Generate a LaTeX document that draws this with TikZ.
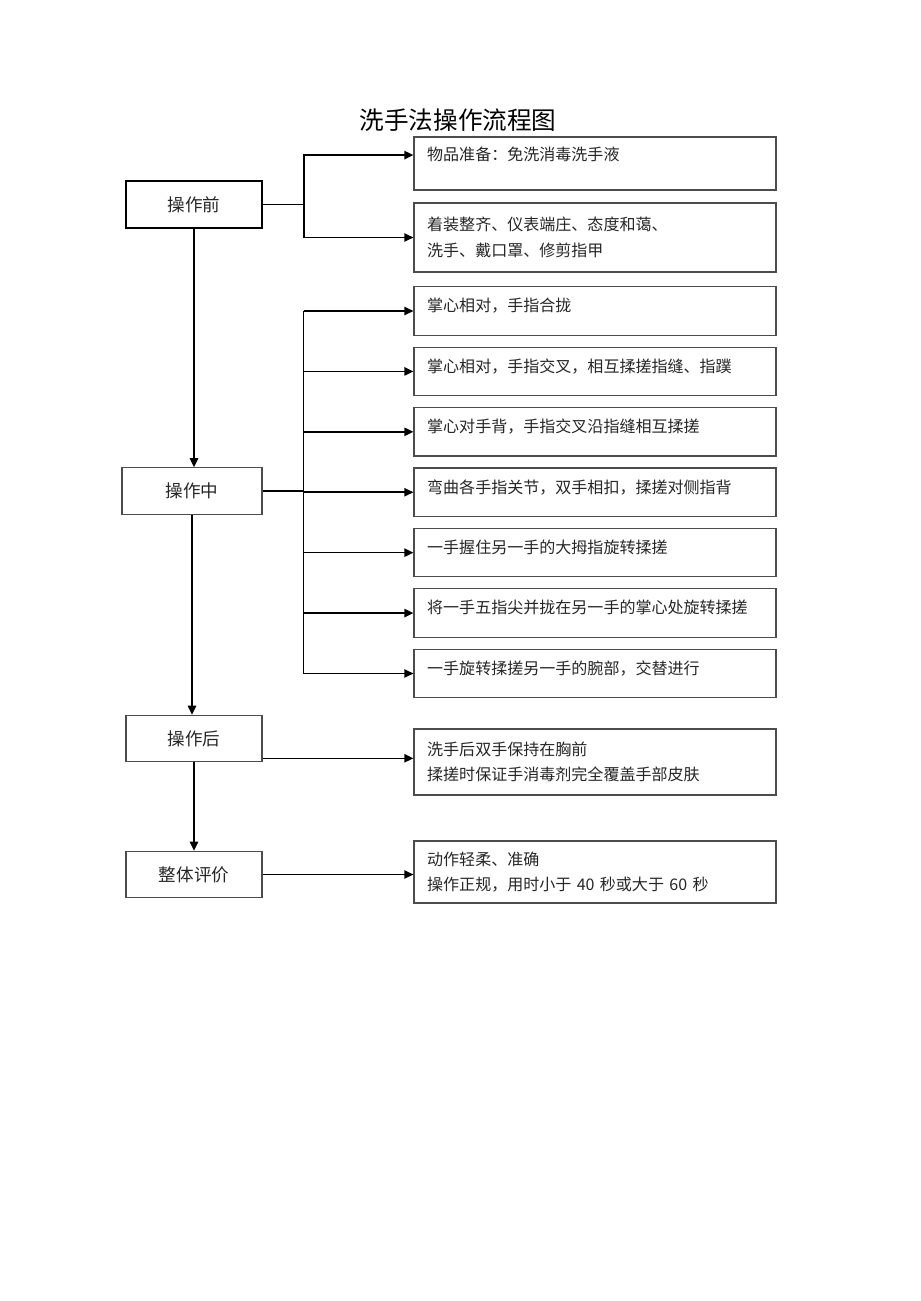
\documentclass[tikz,border=0pt]{standalone}
\usepackage{fontspec}
\newfontfamily\cjk{Noto Sans CJK SC}
\usetikzlibrary{arrows.meta,positioning}

\tikzset{
	stage/.style={draw=black!70, line width=0.8pt, rectangle, minimum width=3.4cm, minimum height=1.16cm, text=black!85, font=\cjk\fontsize{12.5pt}{15pt}\selectfont},
	item/.style={draw=black!70, line width=0.8pt, rectangle, text width=8.39cm, inner xsep=0.33cm, align=left, text=black!85, font=\cjk\fontsize{11.4pt}{18pt}\selectfont},
	oneline/.style={minimum height=1.21cm, text depth=0.3cm},
	link/.style={line width=1.1pt, -{Triangle[length=6.5pt,width=6pt]}}
}

\begin{document}
\begin{tikzpicture}[x=0.025cm, y=-0.025cm]
	\useasboundingbox (0,0) rectangle (920,1301);
	
	\node[font=\cjk\fontsize{17.5pt}{20pt}\selectfont](title) at (458,120){洗手法操作流程图};
	
	\node[stage, draw=black, line width=1.2pt](pre) at (194,204.5){操作前};
	\node[stage, minimum width=3.5cm](mid) at (192,491){操作中};
	\node[stage](post) at (194,738.5){操作后};
	\node[stage](eval) at (194,874.5){整体评价};
	
	\node[item, minimum height=1.325cm, text depth=0.5cm](prep1) at (595,163.5){物品准备：免洗消毒洗手液};
	\node[item, minimum height=1.725cm](prep2) at (595,237.5){着装整齐、仪表端庄、态度和蔼、\\洗手、戴口罩、修剪指甲};
	
	\node[item, oneline](step1) at (595,311){掌心相对，手指合拢};
	\node[item, oneline, below of=step1, node distance=1.51cm](step2){掌心相对，手指交叉，相互揉搓指缝、指蹼};
	\node[item, oneline, below of=step2, node distance=1.51cm](step3){掌心对手背，手指交叉沿指缝相互揉搓};
	\node[item, oneline, below of=step3, node distance=1.51cm](step4){弯曲各手指关节，双手相扣，揉搓对侧指背};
	\node[item, oneline, below of=step4, node distance=1.51cm](step5){一手握住另一手的大拇指旋转揉搓};
	\node[item, oneline, below of=step5, node distance=1.51cm](step6){将一手五指尖并拢在另一手的掌心处旋转揉搓};
	\node[item, oneline, below of=step6, node distance=1.51cm](step7){一手旋转揉搓另一手的腕部，交替进行};
	
	\node[item, minimum height=1.65cm](after1) at (595,762){洗手后双手保持在胸前\\揉搓时保证手消毒剂完全覆盖手部皮肤};
	\node[item, minimum height=1.55cm](final) at (595,872){动作轻柔、准确\\操作正规，用时小于 40 秒或大于 60 秒};
	
	% before
	\draw[line width=1.1pt] (pre.east) -- ++(41,0) coordinate (fork1);
	\draw[link] (fork1) |- ([yshift=0.21cm]prep1.west);
	\draw[link] (fork1) |- (prep2.west);
	
	% during
	\draw[line width=1.1pt] (mid.east) -- ++(41,0) coordinate (fork2);
	\draw[line width=1.1pt] (fork2 |- step1.west) -- (fork2 |- step7.west);
	\foreach \s in {step1,step2,step3,step4,step5,step6,step7}
		\draw[link] (fork2 |- \s.west) -- (\s.west);
	
	% after, evaluation
	\coordinate (postout) at ([yshift=0.1cm]post.south east);
	\draw[link] (postout) -- (postout -| after1.west);
	\draw[link] (eval.east) -- (eval.east -| final.west);
	
	\draw[link] (pre.south) -- (pre.south |- mid.north);
	\draw[link] (mid.south) -- (mid.south |- post.north);
	\draw[link] (post.south) -- (post.south |- eval.north);
\end{tikzpicture}
\end{document}
